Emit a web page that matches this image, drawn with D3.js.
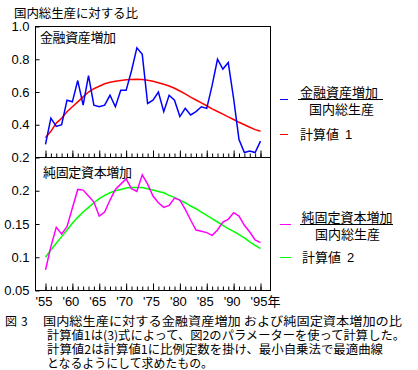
<!DOCTYPE html>
<html>
<head>
<meta charset="utf-8">
<script src="https://cdn.jsdelivr.net/npm/d3@7"></script>
<style>
body { margin: 0; background: #fff; }
svg { display: block; }
text { font-family: "Noto Sans CJK JP", sans-serif; fill: #000; }
</style>
</head>
<body>
<div id="chart"></div>
<script>
const years = [1955, 1956, 1957, 1958, 1959, 1960, 1961, 1962, 1963, 1964,
               1965, 1966, 1967, 1968, 1969, 1970, 1971, 1972, 1973, 1974,
               1975, 1976, 1977, 1978, 1979, 1980, 1981, 1982, 1983, 1984,
               1985, 1986, 1987, 1988, 1989, 1990, 1991, 1992, 1993, 1994, 1995];

// 金融資産増加 / 国内総生産
const finAsset = [0.28, 0.44, 0.39, 0.40, 0.55, 0.54, 0.67, 0.52, 0.70, 0.52,
                  0.51, 0.52, 0.58, 0.51, 0.61, 0.61, 0.73, 0.87, 0.83, 0.53,
                  0.55, 0.60, 0.48, 0.58, 0.55, 0.45, 0.50, 0.46, 0.48, 0.51,
                  0.50, 0.64, 0.80, 0.74, 0.78, 0.56, 0.31, 0.23, 0.24, 0.23, 0.30];
// 計算値 1
const calc1 = [0.32, 0.36, 0.41, 0.44, 0.48, 0.51, 0.54, 0.57, 0.60, 0.62,
               0.635, 0.65, 0.66, 0.665, 0.67, 0.675, 0.677, 0.678, 0.677, 0.672,
               0.665, 0.657, 0.647, 0.637, 0.623, 0.606, 0.588, 0.569, 0.551, 0.534,
               0.516, 0.497, 0.481, 0.465, 0.448, 0.432, 0.415, 0.400, 0.385, 0.370, 0.360];
// 純固定資本増加 / 国内総生産
const fixedCap = [0.081, 0.116, 0.145, 0.135, 0.146, 0.174, 0.202, 0.201, 0.192, 0.183,
                  0.162, 0.168, 0.186, 0.202, 0.210, 0.218, 0.203, 0.199, 0.224, 0.210,
                  0.192, 0.182, 0.175, 0.178, 0.189, 0.186, 0.172, 0.156, 0.141, 0.139,
                  0.137, 0.133, 0.141, 0.153, 0.157, 0.167, 0.162, 0.148, 0.138, 0.126, 0.122];
// 計算値 2
const calc2 = [0.100, 0.111, 0.121, 0.131, 0.141, 0.151, 0.160, 0.168, 0.175, 0.182,
               0.188, 0.193, 0.197, 0.200, 0.202, 0.204, 0.205, 0.205, 0.205, 0.203,
               0.201, 0.199, 0.197, 0.193, 0.190, 0.186, 0.182, 0.177, 0.173, 0.168,
               0.163, 0.158, 0.153, 0.148, 0.143, 0.139, 0.134, 0.129, 0.123, 0.118, 0.113];

const majorYears = [1955, 1960, 1965, 1970, 1975, 1980, 1985, 1990, 1995];
const yearLabels = ["'55", "'60", "'65", "'70", "'75", "'80", "'85", "'90", "'95"];
const topTicks = [0.2, 0.4, 0.6, 0.8, 1.0];
const topTickLabels = ['0.2', '0.4', '0.6', '0.8', '1.0'];
const botTicks = [0.05, 0.1, 0.15, 0.2];
const botTickLabels = ['0.05', '0.1', '0.15', '0.2'];

const captionLines = [
  '国内総生産に対する金融資産増加 および純固定資本増加の比',
  '計算値1は(3)式によって、図2のパラメーターを使って計算した。',
  '計算値2は計算値1に比例定数を掛け、最小自乗法で最適曲線',
  'となるようにして求めたもの。'
];

const svg = d3.select('#chart').append('svg')
    .attr('width', 418)
    .attr('height', 370);

const frameL = 35.5, frameR = 270.5, frameT = 26.5, frameM = 157.5, frameB = 290.5;

const x = d3.scaleLinear().domain([1955, 1995]).range([45.5, 260.5]);
const yTop = d3.scaleLinear().domain([0.2, 1.0]).range([frameM, frameT]);
const yBot = d3.scaleLinear().domain([0.05, 0.25]).range([frameB, frameM]);

// frames
svg.append('rect')
    .attr('x', frameL).attr('y', frameT)
    .attr('width', frameR - frameL).attr('height', frameB - frameT)
    .attr('fill', 'none').attr('stroke', 'black');
svg.append('line')
    .attr('x1', frameL).attr('x2', frameR).attr('y1', frameM).attr('y2', frameM)
    .attr('stroke', 'black');

function styleAxis(g) {
    g.select('.domain').remove();
    g.attr('font-family', null).attr('font-size', null);
    g.selectAll('line').attr('stroke', 'black');
    g.selectAll('text')
        .style('font-family', '"Liberation Sans", Arial, sans-serif')
        .style('font-size', '13px');
}

svg.append('g')
    .attr('transform', `translate(${frameL},0)`)
    .call(d3.axisLeft(yTop).tickValues(topTicks)
        .tickFormat((d, i) => topTickLabels[i]).tickSize(-4).tickPadding(6))
    .call(styleAxis);

svg.append('g')
    .attr('transform', `translate(${frameL},0)`)
    .call(d3.axisLeft(yBot).tickValues(botTicks)
        .tickFormat((d, i) => botTickLabels[i]).tickSize(-4).tickPadding(6))
    .call(styleAxis);

// year ticks: minor on both panels, major with labels at the bottom
[frameM, frameB].forEach(yy => {
    svg.append('g')
        .attr('transform', `translate(0,${yy})`)
        .call(d3.axisBottom(x).tickValues(years).tickFormat('').tickSize(-4))
        .call(styleAxis);
    svg.append('g')
        .attr('transform', `translate(0,${yy})`)
        .call(d3.axisBottom(x).tickValues(majorYears)
            .tickFormat((d, i) => yy === frameB ? yearLabels[i] : '')
            .tickSize(-7).tickPadding(6))
        .call(styleAxis)
        .selectAll('text').attr('dx', -2);
});

svg.append('text')
    .attr('x', x(1995) + 7).attr('y', 306)
    .style('font-size', '13px')
    .text('年');

// series
const lineTop = d3.line().x((d, i) => x(years[i])).y(d => yTop(d));
const lineBot = d3.line().x((d, i) => x(years[i])).y(d => yBot(d));

const series = [
    { values: calc1, line: lineTop, color: '#ff0000' },
    { values: finAsset, line: lineTop, color: '#0000ff' },
    { values: calc2, line: lineBot, color: '#00ff00' },
    { values: fixedCap, line: lineBot, color: '#ff00ff' }
];

svg.selectAll('.series')
    .data(series)
    .enter().append('path')
    .attr('class', 'series')
    .attr('d', d => d.line(d.values))
    .attr('fill', 'none')
    .attr('stroke', d => d.color)
    .attr('stroke-width', 1.5);

// titles
svg.append('text').attr('x', 14).attr('y', 17.5)
    .style('font-size', '12.5px').attr('textLength', 124)
    .text('国内総生産に対する比');
svg.append('text').attr('x', 40).attr('y', 41.5)
    .style('font-size', '13px').attr('textLength', 76)
    .text('金融資産増加');
svg.append('text').attr('x', 43).attr('y', 177)
    .style('font-size', '13px').attr('textLength', 89)
    .text('純固定資本増加');

// legend
const legend = svg.append('g');
function dash(y, x2, color) {
    legend.append('line')
        .attr('x1', 280).attr('x2', x2).attr('y1', y).attr('y2', y)
        .attr('stroke', color).attr('stroke-width', 1);
}
function fraction(num, cx, y, barX1, barX2) {
    legend.append('text').attr('x', cx).attr('y', y - 2)
        .attr('text-anchor', 'middle').style('font-size', '13px').text(num);
    legend.append('line')
        .attr('x1', barX1).attr('x2', barX2).attr('y1', y + 0.5).attr('y2', y + 0.5)
        .attr('stroke', 'black');
    legend.append('text').attr('x', (barX1 + barX2) / 2 + 1).attr('y', y + 15)
        .attr('text-anchor', 'middle').style('font-size', '13px').text('国内総生産');
}
function calcLabel(label, num, x0, y) {
    const t = legend.append('text').attr('x', x0).attr('y', y + 5)
        .style('font-size', '13px');
    t.append('tspan').text(label);
    t.append('tspan').attr('x', x0 + 45)
        .style('font-family', '"Liberation Sans", Arial, sans-serif').text(num);
}

dash(99.5, 288, '#0000ff');
fraction('金融資産増加', 339, 99, 298, 383);
dash(134.5, 288, '#ff0000');
calcLabel('計算値', '1', 300, 134);

dash(224.5, 291, '#ff00ff');
fraction('純固定資本増加', 347, 224, 300, 393);
dash(257.5, 291, '#00ff00');
calcLabel('計算値', '2', 302, 257);

// caption
svg.append('text').attr('x', 5).attr('y', 325.8)
    .style('font-size', '12px')
    .text('図')
  .append('tspan').attr('x', 21).text('3');
const capLeft = [43, 47, 47, 47];
const capWidth = [359, 358, 336, 166];
svg.selectAll('.caption')
    .data(captionLines)
    .enter().append('text')
    .attr('class', 'caption')
    .attr('x', (d, i) => capLeft[i])
    .attr('y', (d, i) => 325.8 + i * 14.2)
    .attr('textLength', (d, i) => capWidth[i])
    .attr('lengthAdjust', 'spacingAndGlyphs')
    .style('font-size', '12px')
    .text(d => d);
</script>
</body>
</html>
